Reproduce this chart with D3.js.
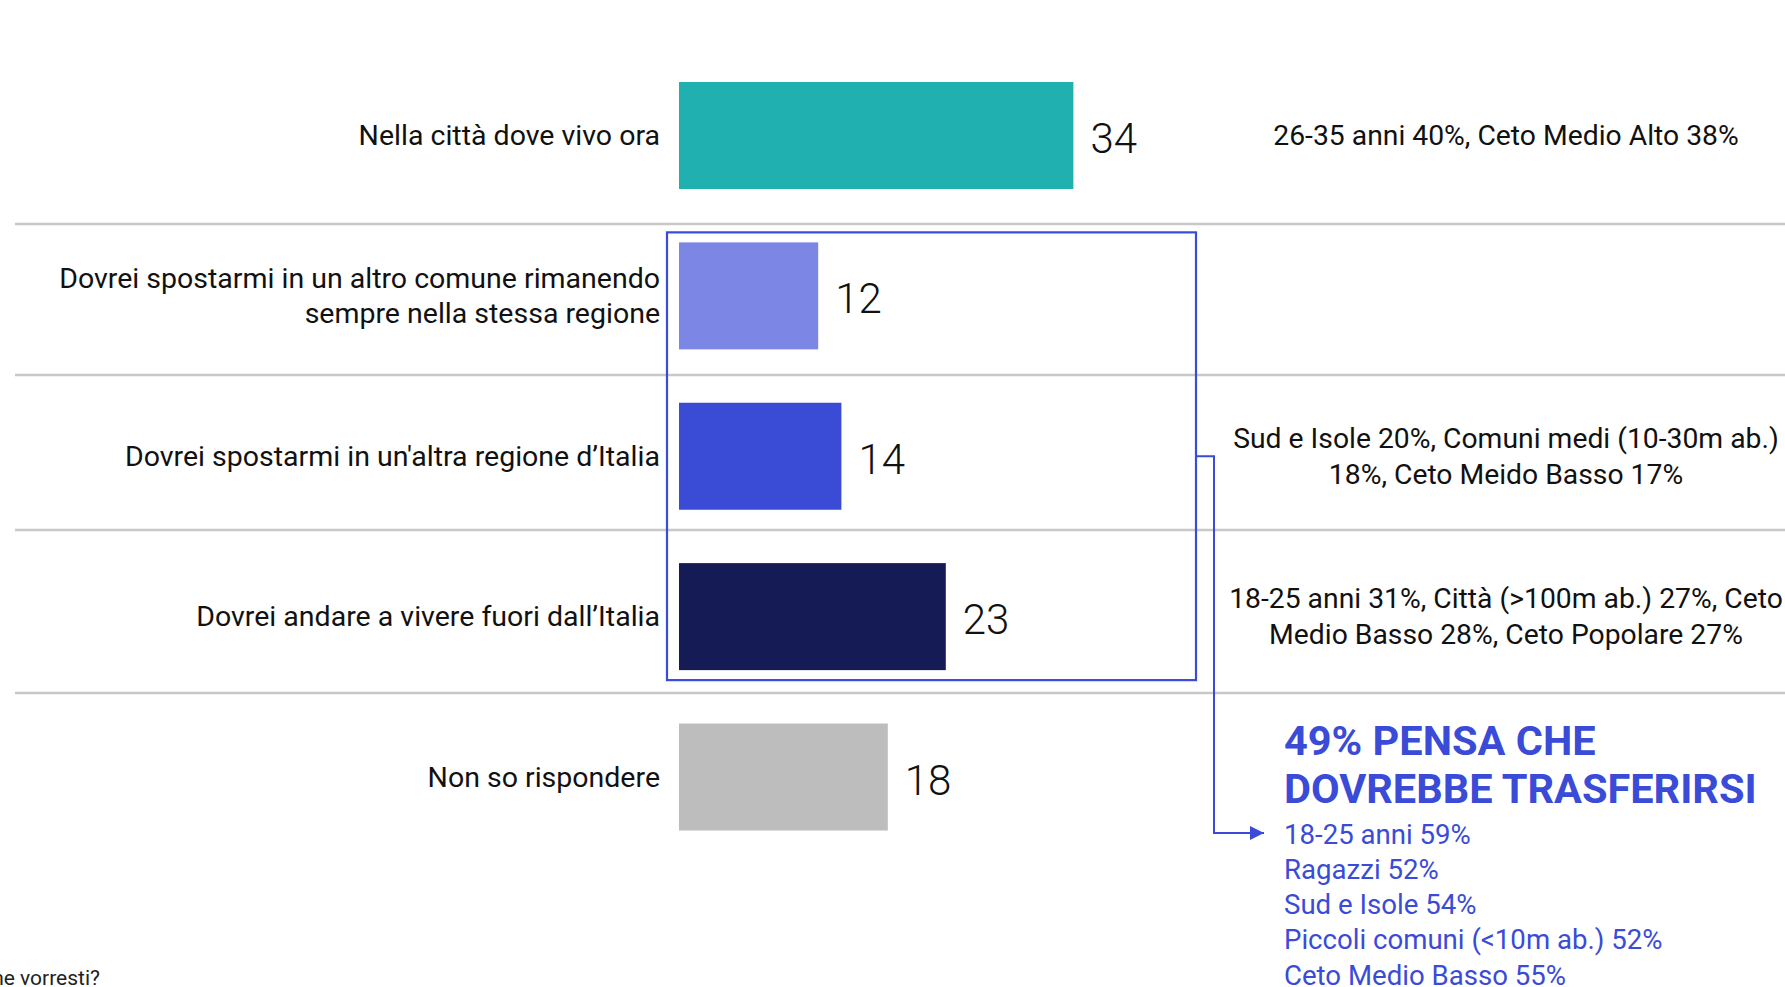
<!DOCTYPE html>
<html>
<head>
<meta charset="utf-8">
<script src="https://cdn.jsdelivr.net/npm/d3@7"></script>
<style>
  html, body { margin: 0; padding: 0; background: #ffffff; overflow: hidden; }
  svg { display: block; }
  text { font-family: Roboto, "Noto Sans", sans-serif; }
</style>
</head>
<body>
<svg id="chart" width="1785" height="987"></svg>
<script>
// ---- data ----
const categories = [
  "Nella città dove vivo ora",
  "Dovrei spostarmi in un altro comune rimanendo|sempre nella stessa regione",
  "Dovrei spostarmi in un'altra regione d’Italia",
  "Dovrei andare a vivere fuori dall’Italia",
  "Non so rispondere"
];
const values = [34, 12, 14, 23, 18];
const barColors = ["#1FB0AF", "#7B86E5", "#3A4BD6", "#141B55", "#BDBDBD"];
const sideNotes = [
  ["26-35 anni 40%, Ceto Medio Alto 38%"],
  [],
  ["Sud e Isole 20%, Comuni medi (10-30m ab.)", "18%, Ceto Meido Basso 17%"],
  ["18-25 anni 31%, Città (>100m ab.) 27%, Ceto", "Medio Basso 28%, Ceto Popolare 27%"],
  []
];
const calloutTitle = ["49% PENSA CHE", "DOVREBBE TRASFERIRSI"];
const calloutItems = [
  "18-25 anni 59%",
  "Ragazzi 52%",
  "Sud e Isole 54%",
  "Piccoli comuni (<10m ab.) 52%",
  "Ceto Medio Basso 55%"
];
const footnote = "ne vorresti?";

// ---- layout ----
const svg = d3.select("#chart");
const blue = "#3A4BD8";
const x = d3.scaleLinear().domain([0, 100]).range([679, 1839]);
const y = d3.scalePoint().domain(d3.range(categories.length)).range([135.5, 777]);
const barH = 107;
const gridYs = [224, 375, 530, 693];

// gridlines
svg.append("g").selectAll("line").data(gridYs).join("line")
  .attr("x1", 15).attr("x2", 1785)
  .attr("y1", d => d).attr("y2", d => d)
  .attr("stroke", "#c8c8c8").attr("stroke-width", 2.5);

// bars
svg.append("g").selectAll("rect").data(values).join("rect")
  .attr("x", x(0))
  .attr("y", (d, i) => y(i) - barH / 2)
  .attr("width", d => x(d) - x(0))
  .attr("height", barH)
  .attr("fill", (d, i) => barColors[i]);

// value labels
svg.append("g").selectAll("text").data(values).join("text")
  .attr("x", d => x(d) + 17)
  .attr("y", (d, i) => y(i) + 17.5)
  .attr("font-size", 42)
  .attr("font-weight", 300)
  .attr("fill", "#111")
  .text(d => d);

// category labels
const lab = svg.append("g").selectAll("text").data(categories).join("text")
  .attr("text-anchor", "end")
  .attr("font-size", 28.5)
  .attr("fill", "#111");
lab.each(function (d, i) {
  const lines = d.split("|");
  const t = d3.select(this);
  const lh = 35;
  const start = y(i) + 9.5 - (lines.length - 1) * lh / 2;
  lines.forEach((ln, k) => {
    t.append("tspan").attr("x", 660).attr("y", start + k * lh).text(ln);
  });
});

// side notes
svg.append("g").selectAll("text").data(sideNotes).join("text")
  .attr("text-anchor", "middle")
  .attr("font-size", 28.3)
  .attr("fill", "#111")
  .each(function (lines, i) {
    const t = d3.select(this);
    const lh = 35.5;
    const start = y(i) + 9.5 - (lines.length - 1) * lh / 2;
    lines.forEach((ln, k) => {
      t.append("tspan").attr("x", 1506).attr("y", start + k * lh).text(ln);
    });
  });

// highlight box around rows 2-4
const boxTop = y(1) - barH / 2 - 10;
const boxBottom = y(3) + barH / 2 + 10;
svg.append("rect")
  .attr("x", 667).attr("y", boxTop)
  .attr("width", 1196 - 667).attr("height", boxBottom - boxTop)
  .attr("fill", "none").attr("stroke", blue).attr("stroke-width", 2.2);

// connector with arrow
svg.append("defs").append("marker")
  .attr("id", "arrow").attr("viewBox", "0 0 10 10")
  .attr("refX", 10).attr("refY", 5)
  .attr("markerWidth", 7).attr("markerHeight", 7)
  .attr("markerUnits", "strokeWidth")
  .attr("orient", "auto")
  .append("path").attr("d", "M0,0 L10,5 L0,10 Z").attr("fill", blue);

const arrowY = 833;
svg.append("path")
  .attr("d", d3.line()([[1196, y(2)], [1214, y(2)], [1214, arrowY], [1264, arrowY]]))
  .attr("fill", "none").attr("stroke", blue).attr("stroke-width", 2)
  .attr("marker-end", "url(#arrow)");

// callout
svg.append("g").selectAll("text").data(calloutTitle).join("text")
  .attr("x", 1284).attr("y", (d, i) => 755 + i * 48)
  .attr("font-size", 41.5).attr("font-weight", 700)
  .attr("fill", blue)
  .text(d => d);

svg.append("g").selectAll("text").data(calloutItems).join("text")
  .attr("x", 1284).attr("y", (d, i) => 843.5 + i * 35.3)
  .attr("font-size", 27.6).attr("fill", blue)
  .text(d => d);

// footnote (cut at the left edge)
svg.append("text")
  .attr("x", 100).attr("y", 985)
  .attr("text-anchor", "end")
  .attr("font-size", 21).attr("fill", "#222")
  .text(footnote);
</script>
</body>
</html>
